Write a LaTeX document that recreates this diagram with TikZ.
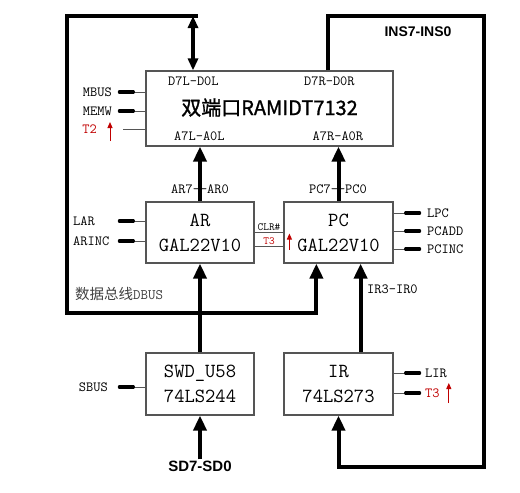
\documentclass[tikz,border=0pt]{standalone}
\usepackage{fontspec}
\newfontfamily\cjk{Noto Sans CJK SC}
\newfontfamily\cjkheavy[FakeBold=1.2]{Noto Sans CJK SC}
\newfontfamily\heavy{Liberation Sans}
\usetikzlibrary{arrows.meta, calc}
\definecolor{sigred}{HTML}{C00000}
\definecolor{boxgray}{HTML}{555555}

\tikzset{
  chip/.style={draw=boxgray, line width=1.2pt, inner sep=0pt, align=center,
    font=\ttfamily\fontsize{20}{25}\selectfont},
  sig/.style={font=\ttfamily\fontsize{14}{16}\selectfont, inner sep=1pt},
  heavylbl/.style={font=\heavy\bfseries\fontsize{14}{16}\selectfont, inner sep=1pt},
  bus/.style={line width=4pt},
  busarrow/.style={bus, -{Triangle[length=15pt,width=13pt]}},
  wire/.style={draw=boxgray, line width=1pt},
  stub/.style={line width=3.2pt, line cap=round},
  redup/.style={sigred, line width=1pt, -{Triangle[length=6pt,width=5pt]}},
}

\begin{document}
\begin{tikzpicture}[x=1pt, y=-1pt]
  \useasboundingbox (0,0) rectangle (520,493);
  % chips
  \node[chip, minimum width=247pt, minimum height=75pt] (ram) at (269.5,108.5) {};
  \node[chip, minimum width=108pt, minimum height=61pt] (ar) at (200,232.5) {AR\\GAL22V10};
  \node[chip, minimum width=109pt, minimum height=61pt] (pc) at (338.5,232.5) {PC\\GAL22V10};
  \node[chip, minimum width=108pt, minimum height=62pt] (swd) at (200,384) {SWD\_U58\\74LS244};
  \node[chip, minimum width=109pt, minimum height=62pt] (ir) at (338.5,384) {IR\\74LS273};

  % inside the ram
  \node[sig] (dl) at ($(ram.north west)+(48,11)$) {D7L-D0L};
  \node[sig] (dr) at ($(ram.north west)+(184,11)$) {D7R-D0R};
  \node[font=\cjkheavy\fontsize{20}{24}\selectfont, inner sep=0pt] (title) at ($(ram.center)+(0,-1)$) {双端口RAMIDT7132};
  \node[sig] (al) at ($(ram.south west)+(54,-10)$) {A7L-A0L};
  \node[sig] (ar2) at ($(ram.south west)+(192.5,-10)$) {A7R-A0R};

  % bus corners
  \coordinate (dtop) at (193,16);
  \coordinate (nw) at (67,16);
  \coordinate (sw) at (67,313);
  \coordinate (ne) at (484,16);
  \coordinate (se) at (484,467);

  % data bus on the left
  \draw[bus, {Triangle[length=12pt,width=10pt]}-{Triangle[length=12pt,width=10pt]}]
    (dtop) -- (dtop |- ram.north);
  \draw[busarrow] ($(dtop)+(5,0)$) -- (nw) -- (sw) -| ($(pc.south west)+(33,0)$);
  \draw[busarrow] (swd.north) -- (ar.south);
  \node[anchor=west, inner sep=1pt, text=black!75, font=\fontsize{14.5}{16}\selectfont]
    (dbus) at (74,294) {\cjk 数据总线\ttfamily DBUS};

  % addresses
  \draw[busarrow] (ar.north) -- (ar.north |- ram.south);
  \draw[busarrow] (pc.north) -- (pc.north |- ram.south);
  \node[sig] (arbus) at (200,189) {AR7——AR0};
  \node[sig] (pcbus) at (338,189) {PC7——PC0};

  % instruction path
  \draw[busarrow] ($(ram.north west)+(183,0)$) |- (ne) -- (se) -| (ir.south);
  \node[heavylbl] (ins) at (418,32) {INS7-INS0};
  \draw[busarrow] ($(ir.north east)+(-33,0)$) -- ($(pc.south east)+(-33,0)$);
  \node[sig, anchor=west] (irbus) at (366,289) {IR3-IR0};

  % switch input
  \node[heavylbl, font=\heavy\bfseries\fontsize{15}{17}\selectfont] (sd) at (200,466) {SD7-SD0};
  \draw[busarrow] (sd.north) -- (swd.south);

  % control signals
  \node[sig, anchor=east] (mbus) at (113,92) {MBUS};
  \node[sig, anchor=east] (memw) at (113,111) {MEMW};
  \node[sig, anchor=east, text=sigred] (t2) at (98,129) {T2};
  \node[sig, anchor=west] (lar) at (72,221) {LAR};
  \node[sig, anchor=west] (arinc) at (72,241) {ARINC};
  \node[sig, anchor=east] (sbus) at (109,387) {SBUS};
  \node[sig, anchor=west] (lpc) at (426,213) {LPC};
  \node[sig, anchor=west] (pcadd) at (426,231) {PCADD};
  \node[sig, anchor=west] (pcinc) at (426,249) {PCINC};
  \node[sig, anchor=west] (lir) at (424,373) {LIR};
  \node[sig, anchor=west, text=sigred] (irt3) at (424,393) {T3};

  \foreach \sg/\bx in {mbus/ram, memw/ram, lar/ar, arinc/ar, sbus/swd} {
    \draw[wire] (\sg -| \bx.west) -- ++(-12,0);
    \draw[stub] ($(\sg -| \bx.west)+(-12,0)$) -- ++(-14,0);
  }
  \foreach \sg/\bx in {lpc/pc, pcadd/pc, pcinc/pc, lir/ir, irt3/ir} {
    \draw[wire] (\sg -| \bx.east) -- ++(12,0);
    \draw[stub] ($(\sg -| \bx.east)+(12,0)$) -- ++(14,0);
  }
  \draw[wire] (t2 -| ram.west) -- ++(-22,0);
  \draw[redup] ($(t2.east)+(12,12)$) -- ++(0,-19);
  \draw[redup] ($(irt3.east)+(8,10)$) -- ++(0,-20);

  % clear line between AR and PC
  \draw[wire] (ar.east) -- (ar.east -| pc.west)
    node[midway, above, font=\ttfamily\fontsize{11}{12}\selectfont, inner sep=1.5pt] {CLR\#};
  \draw[wire] ($(ar.east)+(0,14)$) -- ($(ar.east -| pc.west)+(0,14)$)
    node[midway, above, text=sigred, font=\ttfamily\fontsize{11}{12}\selectfont, inner sep=1.5pt] {T3};
  \draw[redup] ($(pc.west)+(6,17)$) -- ++(0,-16);
\end{tikzpicture}
\end{document}
